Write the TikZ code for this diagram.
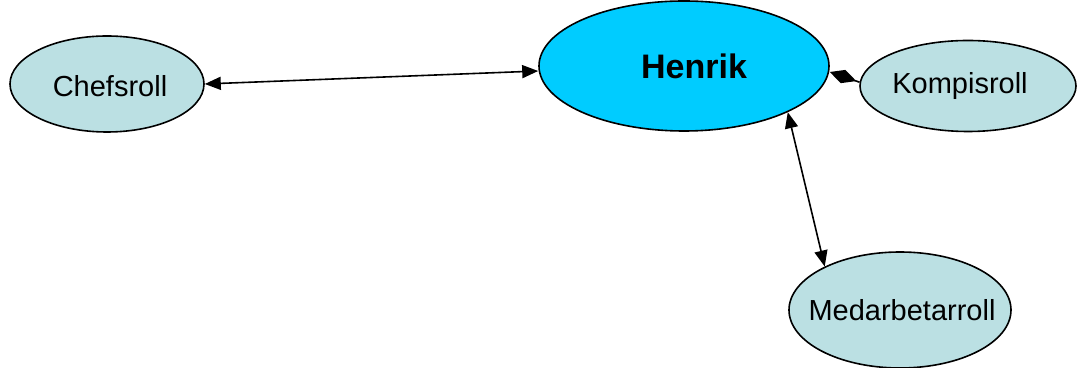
\documentclass[tikz,border=0pt]{standalone}
\usepackage{fontspec}
\setmainfont{Liberation Sans}
\usetikzlibrary{shapes.geometric,arrows.meta}
\definecolor{rolefill}{HTML}{BBE0E3}
\definecolor{henrikfill}{HTML}{00CCFF}
\begin{document}
\begin{tikzpicture}[x=0.5pt,y=-0.5pt,
  shape base/.style={ellipse,draw=black,line width=0.8pt,inner sep=0pt},
  role/.style={shape base,fill=rolefill},
  roletext/.style={font=\fontsize{14.5}{17}\selectfont},
  conn/.style={line width=0.8pt,{Triangle[length=8pt,width=6.5pt]}-{Triangle[length=8pt,width=6.5pt]}}]
\useasboundingbox (0,0) rectangle (1077,368);
\node[role,minimum width=97pt,minimum height=48pt,
  label={[roletext,xshift=1.5pt,yshift=-1pt]center:Chefsroll}] (chef) at (107,84) {};
\node[shape base,fill=henrikfill,minimum width=145pt,minimum height=65pt,
  label={[xshift=5pt,font=\fontsize{17}{20}\selectfont\bfseries]center:Henrik}] (henrik) at (684,66) {};
\node[role,minimum width=108pt,minimum height=45.5pt,
  label={[roletext,xshift=-4pt]center:Kompisroll}] (komp) at (968,86) {};
\node[role,minimum width=111pt,minimum height=58pt,
  label={[roletext,xshift=1pt]center:Medarbetarroll}] (med) at (900,310) {};
\draw[conn] (chef.east) -- ([yshift=-2.5pt]henrik.west);
\draw[conn] (henrik.-24.5) -- (med.150);
\draw[line width=0.8pt,{Diamond[length=14pt,width=7pt]}-] ([yshift=-3pt]henrik.east) -- (komp.178);
\end{tikzpicture}
\end{document}
